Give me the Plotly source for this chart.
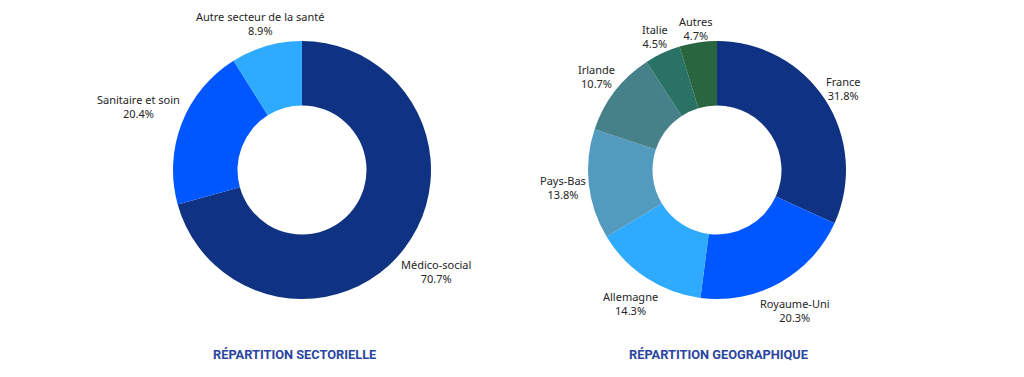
import math
import plotly.graph_objects as go

W, H = 1024, 377

sect_labels = ["Médico-social", "Sanitaire et soin", "Autre secteur de la santé"]
sect_values = [70.7, 20.4, 8.9]
sect_colors = ["#0f3382", "#0057ff", "#2eaaff"]

geo_labels = ["France", "Royaume-Uni", "Allemagne", "Pays-Bas", "Irlande", "Italie", "Autres"]
geo_values = [31.8, 20.3, 14.3, 13.8, 10.7, 4.5, 4.7]
geo_colors = ["#0f3382", "#0057ff", "#2eaaff", "#529bbf", "#46818a", "#2a7166", "#296640"]

titles = ["RÉPARTITION SECTORIELLE", "RÉPARTITION GEOGRAPHIQUE"]

# page body margin offset (px)
OFF = 8
R = 129
centers = [(302 - OFF, 170 - OFF), (717 - OFF, 170 - OFF)]
title_x = [294 - OFF, 718 - OFF]
title_y = 354 - OFF

fig = go.Figure()
annotations = []

groups = [
    (sect_labels, sect_values, sect_colors, centers[0], titles[0], title_x[0]),
    (geo_labels, geo_values, geo_colors, centers[1], titles[1], title_x[1]),
]
for (labels, values, colors, (cx, cy), title, tx) in groups:
    dom_x = [(cx - R) / W, (cx + R) / W]
    dom_y = [1 - (cy + R) / H, 1 - (cy - R) / H]
    fig.add_trace(go.Pie(
        labels=labels, values=values, sort=False, direction="clockwise", rotation=0,
        hole=0.5, marker=dict(colors=colors, line=dict(width=0)),
        textinfo="none", hoverinfo="label+percent", showlegend=False,
        domain=dict(x=dom_x, y=dom_y),
    ))
    total = sum(values)
    cum = 0
    for lab, v in zip(labels, values):
        mid = (cum + v / 2) / total * 2 * math.pi
        cum += v
        s, c = math.sin(mid), math.cos(mid)
        tw = min(max(len(lab), 6), 16) * 5.3
        if c > -0.3:
            r = R + 4 + abs(s) * tw / 2 + abs(c) * 8
        else:
            r = R - 3 + abs(s) * tw / 2 + abs(c) * 24
        px = cx + r * s
        py = cy - r * c
        annotations.append(dict(
            x=px / W, y=1 - py / H, xref="paper", yref="paper",
            text=f"{lab}<br>{v:.1f}%", showarrow=False,
            xanchor="center", yanchor="middle", align="center",
            font=dict(family="Noto Sans, sans-serif", size=11, color="#262626"),
        ))
    annotations.append(dict(
        x=tx / W, y=1 - title_y / H, xref="paper", yref="paper",
        text=f"<b>{title}</b>", showarrow=False, xanchor="center", yanchor="middle",
        font=dict(family="Roboto, sans-serif", size=12.8, color="#2a46a0"),
    ))

fig.update_layout(
    width=W, height=H, margin=dict(l=0, r=0, t=0, b=0),
    paper_bgcolor="white", plot_bgcolor="white",
    annotations=annotations,
)

fig.write_html("out.html")
